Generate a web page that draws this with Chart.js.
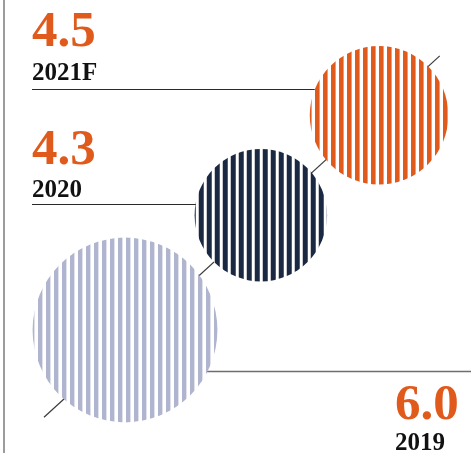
<!DOCTYPE html>
<html>
<head>
<meta charset="utf-8">
<script src="https://cdn.jsdelivr.net/npm/chart.js@4/dist/chart.umd.min.js"></script>
<style>
  html, body { margin: 0; padding: 0; background: #ffffff; }
  #wrap { width: 471px; height: 453px; position: relative; }
</style>
</head>
<body>
<div id="wrap"><canvas id="c" width="471" height="453"></canvas></div>
<script>
// Growth figures per year
const categories = ['2019', '2020', '2021F'];
const values = [6.0, 4.3, 4.5];
const valueLabels = ['6.0', '4.3', '4.5'];

// Styling
const fillColors = ['#b0b4ce', '#1b2842', '#e05a1c'];
const stripeWidths = [4.4, 5, 4.6];
const stripePhases = [6, 6.7, 3];
const numberColor = '#e05a1c';
const yearColor = '#111111';

// Bubble radius in px per unit of value; chain runs up-right at this angle
const PX = 15.4;
const ANGLE = 40.2 * Math.PI / 180;
const GAP = 1.25;      // space between neighbouring bubbles (value units)

// Guide line: a little steeper than the chain, pivoting near the middle bubble
const GUIDE_ANGLE = 42.4 * Math.PI / 180;
const GUIDE_DROP = 0.26;   // shift below the middle bubble's centre (value units)
const TAIL_LOW = 1.52;     // overrun past the first bubble
const TAIL_HIGH = 1.18;    // overrun past the last bubble

// Distances along the chain, derived from the radii
const along = [];
values.forEach((v, i) => {
  if (i === 0) along.push(0);
  else along.push(along[i - 1] + values[i - 1] + v + GAP);
});
const bubbleData = values.map((v, i) => ({
  x: along[i] * Math.cos(ANGLE),
  y: along[i] * Math.sin(ANGLE),
  r: v * PX
}));
const mid = 1, last = values.length - 1;
const pivot = { x: bubbleData[mid].x, y: bubbleData[mid].y - GUIDE_DROP };
const sLow = -((along[mid] - along[0]) + values[0] + TAIL_LOW);
const sHigh = (along[last] - along[mid]) + values[last] + TAIL_HIGH;
const guideData = [sLow, sHigh].map(s => ({
  x: pivot.x + s * Math.cos(GUIDE_ANGLE),
  y: pivot.y + s * Math.sin(GUIDE_ANGLE)
}));

const canvas = document.getElementById('c');
const ctx = canvas.getContext('2d');

function stripes(color, w, phase) {
  const c = document.createElement('canvas');
  c.width = 8; c.height = 8;
  const g = c.getContext('2d');
  g.fillStyle = '#ffffff';
  g.fillRect(0, 0, 8, 8);
  g.fillStyle = color;
  g.fillRect(0, 0, w, 8);
  const p = ctx.createPattern(c, 'repeat');
  p.setTransform(new DOMMatrix().translate(phase, 0));
  return p;
}
const patterns = fillColors.map((c, i) => stripes(c, stripeWidths[i], stripePhases[i]));

// Text blocks and their leader lines (pixel layout)
const labelLayout = [
  { x: 395, numBase: 419, yearBase: 450, leaderY: 371, leaderToRight: true },
  { x: 32, numBase: 164, yearBase: 197, leaderY: 204, leaderToRight: false },
  { x: 32, numBase: 46, yearBase: 80, leaderY: 89, leaderToRight: false }
];

const annotate = {
  id: 'annotate',
  beforeDatasetsDraw(chart) {
    const c = chart.ctx;
    const pts = chart.getDatasetMeta(0).data;
    c.save();
    // frame edge on the left
    c.strokeStyle = '#9c9c9c';
    c.lineWidth = 2;
    c.beginPath(); c.moveTo(4, 0); c.lineTo(4, chart.height); c.stroke();
    labelLayout.forEach((L, i) => {
      const p = pts[i];
      c.beginPath();
      if (L.leaderToRight) {
        c.strokeStyle = '#6e6e6e';
        c.lineWidth = 1.5;
        c.moveTo(p.x, L.leaderY + 0.5); c.lineTo(chart.width, L.leaderY + 0.5);
      } else {
        c.strokeStyle = '#2a2a2a';
        c.lineWidth = 1.2;
        c.moveTo(L.x, L.leaderY + 0.5); c.lineTo(p.x, L.leaderY + 0.5);
      }
      c.stroke();
    });
    c.restore();
  },
  afterDatasetsDraw(chart) {
    const c = chart.ctx;
    c.save();
    c.textAlign = 'left';
    c.textBaseline = 'alphabetic';
    labelLayout.forEach((L, i) => {
      c.fillStyle = numberColor;
      c.font = 'bold 51px "Liberation Serif", serif';
      c.fillText(valueLabels[i], L.x, L.numBase);
      c.fillStyle = yearColor;
      c.font = 'bold 25px "Liberation Serif", serif';
      c.fillText(categories[i], L.x, L.yearBase);
    });
    c.restore();
  }
};

new Chart(canvas, {
  type: 'bubble',
  data: {
    datasets: [
      {
        type: 'bubble',
        data: bubbleData,
        backgroundColor: patterns,
        borderWidth: 0,
        hoverBorderWidth: 0,
        hoverRadius: 0,
        clip: false,
        order: 0
      },
      {
        type: 'line',
        data: guideData,
        borderColor: '#3a3a3a',
        borderWidth: 1.2,
        pointRadius: 0,
        fill: false,
        clip: false,
        order: 1
      }
    ]
  },
  options: {
    responsive: false,
    animation: false,
    devicePixelRatio: 1,
    events: [],
    layout: { padding: 0, autoPadding: false },
    plugins: { legend: { display: false }, tooltip: { enabled: false } },
    scales: {
      x: { type: 'linear', display: false, min: -125 / PX, max: (471 - 125) / PX },
      y: { type: 'linear', display: false, min: -(453 - 330) / PX, max: 330 / PX }
    }
  },
  plugins: [annotate]
});
</script>
</body>
</html>
